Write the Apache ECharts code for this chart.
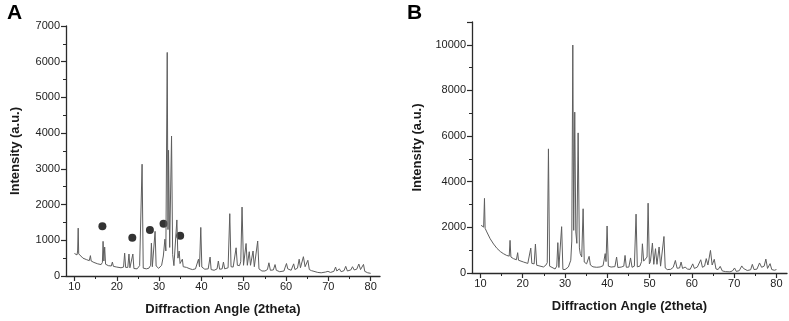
<!DOCTYPE html>
<html>
<head>
<meta charset="utf-8">
<script src="https://cdn.jsdelivr.net/npm/echarts@6/dist/echarts.min.js"></script>
<style>
  html, body { margin: 0; padding: 0; background: #fff; }
  #chart { width: 789px; height: 321px; }
</style>
</head>
<body>
<div id="chart"></div>
<script>
// XRD pattern A: [2theta, intensity]
var xrdA = [
  [10.0, 630], [10.3, 600], [10.6, 590], [10.75, 700], [10.88, 1340], [11.0, 620], [11.3, 570], [12.0, 500],
  [12.8, 460], [13.5, 430], [13.77, 570], [13.95, 420], [14.6, 380], [15.5, 340], [16.3, 320], [16.6, 380],
  [16.76, 970], [16.95, 420], [17.14, 810], [17.35, 330], [18.0, 290], [18.7, 280], [18.96, 390], [19.2, 270],
  [20.0, 250], [21.0, 230], [21.6, 250], [21.86, 640], [22.1, 240], [22.6, 240], [22.88, 615], [23.1, 230],
  [23.55, 240], [23.8, 615], [24.05, 210], [24.8, 200], [25.4, 290], [25.7, 300], [25.98, 3130], [26.25, 220],
  [27.0, 200], [27.6, 220], [28.0, 300], [28.18, 920], [28.4, 260], [28.8, 300], [29.05, 1250], [29.3, 280],
  [29.9, 215], [30.6, 300], [31.0, 560], [31.37, 1030], [31.6, 700], [31.92, 6260], [32.1, 1300], [32.23, 3520],
  [32.5, 800], [32.94, 3920], [33.2, 600], [33.5, 290], [33.9, 300], [34.2, 1570], [34.45, 500], [34.75, 700],
  [34.95, 350], [35.5, 470], [35.7, 260], [36.5, 240], [37.3, 200], [37.9, 180], [38.6, 200], [39.3, 470],
  [39.55, 260], [39.85, 1360], [40.1, 250], [40.8, 190], [41.6, 200], [42.05, 530], [42.3, 180], [43.0, 160],
  [43.7, 200], [44.0, 420], [44.3, 190], [44.9, 200], [45.2, 390], [45.5, 200], [46.3, 230], [46.7, 1745],
  [47.0, 260], [47.5, 250], [47.9, 300], [48.2, 790], [48.5, 300], [49.0, 290], [49.3, 400], [49.6, 1930],
  [49.95, 300], [50.3, 320], [50.55, 910], [50.85, 300], [51.3, 680], [51.6, 300], [51.9, 320], [52.2, 700],
  [52.5, 260], [52.9, 280], [53.3, 980], [53.6, 200], [54.3, 140], [55.0, 140], [55.6, 180], [55.95, 370],
  [56.3, 160], [57.0, 170], [57.4, 320], [57.7, 160], [58.5, 120], [59.5, 140], [59.8, 250], [60.1, 350],
  [60.4, 200], [61.2, 160], [61.8, 340], [62.1, 180], [62.7, 220], [63.1, 470], [63.4, 230], [63.8, 250],
  [64.1, 540], [64.5, 260], [64.9, 250], [65.15, 440], [65.5, 180], [66.0, 150], [66.6, 130], [67.5, 100],
  [68.3, 90], [69.3, 110], [69.9, 130], [70.5, 100], [71.3, 130], [71.7, 250], [72.0, 140], [72.6, 200],
  [73.0, 120], [73.7, 150], [74.1, 270], [74.5, 140], [75.3, 170], [75.7, 260], [76.1, 170], [76.7, 190],
  [77.2, 335], [77.6, 180], [78.0, 200], [78.3, 325], [78.6, 130], [79.3, 90], [80.0, 75]
];

// marked phase peaks in A
var dotsA = [[16.6, 1390], [23.67, 1070], [27.83, 1290], [31.05, 1460], [34.98, 1130]];

// XRD pattern B: [2theta, intensity]
var xrdB = [
  [10.15, 2090], [10.5, 2050], [10.75, 2010], [10.95, 3270], [11.1, 1960], [11.5, 1800], [12.3, 1500], [13.1, 1270],
  [13.9, 1080], [14.7, 940], [15.4, 850], [16.2, 770], [16.8, 740], [17.0, 1430], [17.2, 700], [17.8, 630],
  [18.5, 580], [18.8, 890], [19.0, 560], [20.2, 480], [21.2, 420], [21.6, 430], [21.9, 1090], [22.15, 420],
  [22.7, 400], [23.0, 1270], [23.3, 340], [23.7, 310], [24.9, 265], [25.45, 340], [25.8, 450], [26.08, 5440],
  [26.35, 300], [26.8, 220], [27.65, 175], [28.05, 300], [28.3, 1330], [28.55, 240], [28.9, 260], [29.2, 2030],
  [29.5, 160], [30.0, 150], [30.8, 265], [31.36, 560], [31.6, 1400], [31.84, 9990], [32.05, 1870], [32.3, 7050],
  [32.55, 1800], [32.8, 1300], [33.1, 6140], [33.4, 1100], [33.6, 850], [33.95, 700], [34.28, 2815], [34.55, 480],
  [35.1, 400], [35.7, 730], [36.0, 350], [36.6, 270], [37.5, 250], [38.3, 265], [39.0, 320], [39.5, 850],
  [39.7, 500], [39.95, 2060], [40.25, 300], [40.9, 260], [41.8, 280], [42.2, 700], [42.5, 240], [43.3, 260],
  [43.9, 300], [44.2, 770], [44.5, 250], [45.1, 260], [45.5, 660], [45.85, 250], [46.4, 300], [46.8, 2580],
  [47.1, 270], [47.7, 300], [48.1, 500], [48.3, 1280], [48.6, 520], [49.0, 450], [49.4, 700], [49.65, 3060],
  [49.95, 400], [50.2, 500], [50.67, 1310], [51.0, 380], [51.4, 1065], [51.75, 380], [52.25, 1140], [52.6, 300],
  [53.0, 320], [53.4, 1600], [53.7, 220], [54.2, 150], [55.0, 160], [55.6, 250], [56.1, 550], [56.5, 210],
  [57.1, 220], [57.45, 480], [57.8, 200], [58.4, 260], [59.0, 170], [59.6, 160], [60.2, 400], [60.6, 200],
  [61.3, 260], [61.7, 300], [62.1, 580], [62.5, 250], [63.0, 300], [63.4, 630], [63.8, 350], [64.4, 990],
  [64.8, 350], [65.3, 600], [65.7, 180], [66.2, 150], [66.7, 290], [67.2, 90], [68.0, 60], [69.0, 50],
  [69.6, 90], [70.1, 220], [70.5, 70], [71.2, 100], [71.8, 310], [72.2, 200], [72.6, 260], [73.1, 110],
  [73.9, 140], [74.3, 380], [74.7, 150], [75.4, 170], [76.0, 440], [76.5, 250], [77.1, 300], [77.5, 610],
  [77.9, 200], [78.2, 210], [78.5, 410], [78.9, 150], [79.5, 120], [80.0, 150]
];

var xTicks = [10, 20, 30, 40, 50, 60, 70, 80];
var xMinorTicks = [15, 25, 35, 45, 55, 65, 75];

var font = 'Liberation Sans, Arial, sans-serif';
var axisColor = '#2a2a2a';

function mainX(grid, max) {
  return {
    gridIndex: grid, type: 'value', min: 8, max: max, position: 'bottom',
    name: 'Diffraction Angle (2theta)', nameLocation: 'middle', nameGap: 27,
    nameTextStyle: { fontFamily: font, fontSize: 13, fontWeight: 'bold', color: '#1a1a1a' },
    axisLine: { lineStyle: { color: axisColor, width: 1.3 } },
    axisTick: { customValues: xTicks, length: 5, lineStyle: { color: axisColor, width: 1.2 } },
    axisLabel: { customValues: xTicks, margin: 5, fontFamily: font, fontSize: 11, color: '#222' },
    splitLine: { show: false }
  };
}
function minorX(grid, max) {
  return {
    gridIndex: grid, type: 'value', min: 8, max: max, position: 'bottom',
    axisLine: { show: false },
    axisTick: { customValues: xMinorTicks, length: 3, lineStyle: { color: axisColor, width: 1 } },
    axisLabel: { show: false },
    splitLine: { show: false }
  };
}
function yAx(grid, max, interval, gap) {
  return {
    gridIndex: grid, type: 'value', min: 0, max: max, interval: interval,
    name: 'Intensity (a.u.)', nameLocation: 'middle', nameGap: gap,
    nameTextStyle: { fontFamily: font, fontSize: 13, fontWeight: 'bold', color: '#1a1a1a' },
    axisLine: { show: true, lineStyle: { color: axisColor, width: 1.3 } },
    axisTick: { show: true, length: 5, lineStyle: { color: axisColor, width: 1.2 } },
    minorTick: { show: true, splitNumber: 2, length: 3, lineStyle: { color: axisColor, width: 1 } },
    axisLabel: {
      margin: 6, fontFamily: font, fontSize: 11, color: '#222', showMaxLabel: max % interval === 0,
      formatter: function (v) { return String(v); }
    },
    splitLine: { show: false }
  };
}

var chart = echarts.init(document.getElementById('chart'));
chart.setOption({
  animation: false,
  backgroundColor: '#fff',
  title: [
    { text: 'A', left: 2, top: -2, textStyle: { fontFamily: font, fontSize: 21, fontWeight: 'bold', color: '#000' } },
    { text: 'B', left: 402, top: -2, textStyle: { fontFamily: font, fontSize: 21, fontWeight: 'bold', color: '#000' } }
  ],
  grid: [
    { left: 66, top: 26, width: 314, height: 251 },
    { left: 472, top: 22, width: 315, height: 251 }
  ],
  xAxis: [mainX(0, 82.2), minorX(0, 82.2), mainX(1, 82.5), minorX(1, 82.5)],
  yAxis: [yAx(0, 7000, 1000, 44), yAx(1, 11000, 2000, 48)],
  series: [
    {
      type: 'line', xAxisIndex: 0, yAxisIndex: 0, data: xrdA, showSymbol: false,
      lineStyle: { color: '#5e5e5e', width: 1 }, silent: true
    },
    {
      type: 'scatter', xAxisIndex: 0, yAxisIndex: 0, data: dotsA, symbolSize: 8,
      itemStyle: { color: '#000' }, silent: true
    },
    {
      type: 'line', xAxisIndex: 2, yAxisIndex: 1, data: xrdB, showSymbol: false,
      lineStyle: { color: '#5e5e5e', width: 1 }, silent: true
    }
  ]
});
</script>
</body>
</html>
